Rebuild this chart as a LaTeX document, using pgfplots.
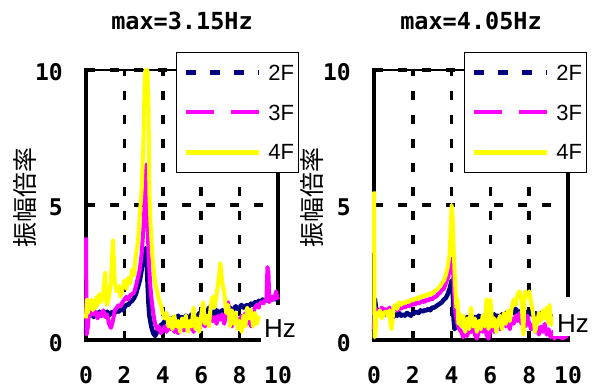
\documentclass[border=0pt]{standalone}
\usepackage{pgfplots}
\pgfplotsset{compat=1.18}
\usepackage{fontspec}
\setmainfont{Liberation Sans}
\newfontfamily\monob{DejaVu Sans Mono}
\newfontfamily\jp{Noto Sans CJK JP}
\definecolor{navyc}{RGB}{0,0,128}
\definecolor{mag}{RGB}{255,0,255}
\definecolor{yel}{RGB}{255,255,0}
\pgfplotsset{
 myax/.style={
  scale only axis, height=270pt, xmin=0,xmax=10,ymin=0,ymax=10,
  xtick={0,2,4,6,8,10}, ytick={0,5,10},
  major tick length=0pt,
  grid=major,
  major grid style={black, line width=3.6pt, dash pattern=on 9pt off 15pt},
  axis line style={draw=none},
  clip=false,
  /pgf/number format/assume math mode=true,
  ticklabel style={font=\monob\bfseries\fontsize{23}{23}\selectfont, inner sep=0pt},
  xticklabel style={anchor=base, yshift=-43pt},
  yticklabel style={anchor=base east, xshift=-23pt, yshift=-11pt},
  title style={font=\monob\bfseries\fontsize{23.5}{23.5}\selectfont, at={(rel axis cs:0.5,1)}, anchor=base, yshift=34pt, inner sep=0pt},
  ylabel style={font=\jp\fontsize{25}{25}\selectfont, at={(rel axis cs:-0.32,0.526)}, anchor=center, inner sep=0pt},
  legend style={anchor=north west, draw=black, line width=0.8pt, fill=white, inner xsep=0pt, inner ysep=0pt, row sep=0pt, font=\fontsize{22}{22}\selectfont, nodes={inner sep=0pt, text depth=0pt}, cells={anchor=center}},
  legend image code/.code={\path[draw=none,fill=none] (-10pt,-20pt) rectangle (82pt,20pt); \draw[##1] (0pt,0pt) -- (73pt,0pt);},
 },
 s2/.style={navyc, line width=4.5pt, line join=round, forget plot},
 s3/.style={mag, line width=4pt, line join=round, forget plot},
 s4/.style={yel, line width=4pt, line join=round, forget plot},
}
\begin{document}
\begin{tikzpicture}
\path[use as bounding box] (0,0) rectangle (593pt,390pt);
% ---------------- left panel ----------------
\begin{axis}[myax, width=192pt, at={(86pt,50pt)}, anchor=south west,
  title={max=3.15Hz}, ylabel={振幅倍率},
  legend style={at={(rel axis cs:0.469,1.0667)}}]
\addlegendimage{navyc, line width=4.5pt, dash pattern=on 10pt off 14pt}
\addlegendentry{2F\kern4pt}
\addlegendimage{mag, line width=4pt, dash pattern=on 28pt off 17pt}
\addlegendentry{3F\kern4pt}
\addlegendimage{yel, line width=4.5pt}
\addlegendentry{4F\kern4pt}
\draw[line width=1.5pt] (rel axis cs:0,1) -- (rel axis cs:1,1);
\draw[line width=3.6pt, line cap=rect] (rel axis cs:0,1) -- (rel axis cs:0,0) -- (rel axis cs:1,0) -- (rel axis cs:1,1);
\addplot[s2] coordinates {(0,0.2) (0.05,1.0) (0.1,1.1) (0.2,0.9) (0.3,1.0) (0.4,0.85) (0.5,1.0) (0.6,0.9) (0.7,1.05) (0.8,0.9) (0.9,1.0) (1.0,0.95) (1.1,1.05) (1.2,0.9) (1.3,1.0) (1.4,1.05) (1.5,1.0) (1.6,1.1) (1.7,1.05) (1.8,1.15) (1.9,1.1) (2.0,1.2) (2.1,1.3) (2.2,1.3) (2.3,1.4) (2.4,1.45) (2.5,1.55) (2.6,1.7) (2.7,1.95) (2.8,2.2) (2.9,2.6) (3.0,3.1) (3.1,3.4) (3.15,3.3) (3.2,2.2) (3.25,1.4) (3.3,0.9) (3.4,0.5) (3.5,0.25) (3.6,0.15) (3.7,0.3) (3.8,0.45) (3.9,0.55) (4.0,0.6) (4.1,0.7) (4.2,0.65) (4.3,0.75) (4.4,0.8) (4.5,0.75) (4.6,0.85) (4.7,0.8) (4.8,0.9) (4.9,0.8) (5.0,0.85) (5.1,0.75) (5.2,0.9) (5.3,0.8) (5.4,0.85) (5.5,0.95) (5.6,0.8) (5.7,0.9) (5.8,0.85) (5.9,1.0) (6.0,0.9) (6.1,0.95) (6.2,1.05) (6.3,0.95) (6.4,1.2) (6.5,1.0) (6.6,1.05) (6.7,0.95) (6.8,1.1) (6.9,1.0) (7.0,1.05) (7.1,1.1) (7.2,1.0) (7.3,1.15) (7.4,1.1) (7.5,1.2) (7.6,1.1) (7.7,1.15) (7.8,1.25) (7.9,1.15) (8.0,1.2) (8.1,1.3) (8.2,1.2) (8.3,1.25) (8.4,1.3) (8.5,1.25) (8.6,1.35) (8.7,1.3) (8.8,1.4) (8.9,1.35) (9.0,1.45) (9.1,1.4) (9.2,1.5) (9.3,1.45) (9.4,1.5) (9.5,1.45) (9.6,1.5) (9.7,1.5) (9.8,1.55) (9.9,1.5) (10.0,1.5)};
\addplot[s3] coordinates {(0,3.8) (0.03,0.2) (0.1,0.5) (0.15,1.0) (0.2,0.9) (0.3,1.1) (0.4,0.95) (0.5,1.05) (0.6,0.8) (0.7,1.0) (0.8,0.9) (0.9,1.1) (1.0,0.85) (1.1,0.95) (1.2,0.6) (1.3,0.45) (1.4,0.7) (1.5,1.1) (1.6,1.2) (1.7,1.3) (1.8,1.25) (1.9,1.4) (2.0,1.5) (2.1,1.6) (2.2,1.5) (2.3,1.65) (2.4,1.7) (2.5,1.75) (2.6,2.0) (2.7,2.3) (2.8,2.6) (2.9,3.2) (3.0,4.2) (3.1,5.8) (3.15,6.5) (3.2,5.0) (3.25,3.3) (3.3,2.6) (3.35,2.0) (3.4,1.6) (3.5,1.0) (3.6,0.6) (3.7,0.4) (3.8,0.5) (3.9,0.25) (4.0,0.35) (4.1,0.5) (4.2,0.3) (4.3,0.6) (4.4,0.4) (4.5,0.55) (4.6,0.3) (4.7,0.5) (4.8,0.25) (4.9,0.45) (5.0,0.6) (5.1,0.35) (5.2,0.5) (5.3,0.7) (5.4,0.4) (5.5,0.6) (5.6,0.3) (5.7,0.55) (5.8,0.7) (5.9,0.4) (6.0,0.6) (6.1,0.75) (6.2,0.5) (6.3,0.8) (6.4,0.6) (6.5,0.9) (6.6,0.7) (6.7,0.85) (6.8,0.6) (6.9,0.9) (7.0,0.75) (7.1,0.95) (7.2,0.6) (7.3,1.0) (7.4,1.4) (7.5,0.8) (7.6,0.5) (7.7,0.9) (7.8,0.6) (7.9,0.8) (8.0,0.5) (8.1,0.9) (8.2,0.7) (8.3,1.0) (8.4,0.6) (8.5,0.9) (8.6,0.5) (8.7,1.0) (8.8,1.2) (8.9,1.3) (9.0,1.2) (9.1,1.4) (9.2,1.3) (9.3,1.45) (9.4,1.5) (9.45,2.7) (9.5,2.5) (9.55,1.4) (9.6,1.5) (9.7,1.6) (9.8,1.5) (9.9,1.8) (9.95,1.6) (10.0,1.5)};
\addplot[s4] coordinates {(0,0.8) (0.05,1.5) (0.1,1.0) (0.15,1.3) (0.2,1.2) (0.3,1.5) (0.35,1.1) (0.4,1.4) (0.5,1.2) (0.55,1.6) (0.6,1.3) (0.7,1.7) (0.8,1.4) (0.9,1.8) (1.0,2.5) (1.05,1.5) (1.1,1.3) (1.2,1.6) (1.3,2.2) (1.4,3.7) (1.45,3.0) (1.5,2.1) (1.6,1.8) (1.7,2.0) (1.8,1.6) (1.9,1.9) (2.0,2.2) (2.1,1.9) (2.2,2.3) (2.3,2.1) (2.4,2.6) (2.5,2.4) (2.6,3.2) (2.7,3.6) (2.8,4.6) (2.9,5.6) (3.0,7.5) (3.05,9.5) (3.1,10) (3.2,10) (3.25,9.0) (3.3,5.5) (3.35,4.5) (3.4,3.8) (3.45,3.2) (3.5,2.8) (3.6,2.1) (3.7,1.8) (3.8,1.5) (3.9,1.3) (4.0,1.0) (4.1,0.8) (4.2,1.0) (4.3,0.5) (4.4,0.8) (4.5,0.4) (4.6,0.9) (4.7,0.5) (4.8,0.7) (4.9,0.3) (5.0,0.8) (5.1,0.5) (5.2,0.9) (5.3,0.3) (5.4,0.7) (5.5,0.5) (5.6,1.2) (5.7,0.4) (5.8,0.8) (5.9,0.3) (6.0,0.9) (6.1,1.4) (6.2,0.6) (6.3,0.9) (6.4,0.5) (6.5,1.3) (6.6,1.6) (6.7,1.2) (6.8,1.7) (6.9,2.2) (7.0,2.85) (7.1,2.1) (7.2,1.8) (7.3,1.0) (7.4,1.3) (7.5,0.5) (7.6,1.1) (7.7,0.6) (7.8,1.0) (7.9,0.4) (8.0,0.7) (8.1,0.3) (8.2,0.9) (8.3,0.5) (8.4,1.2) (8.5,0.8) (8.6,1.1) (8.7,0.5) (8.8,1.0) (8.9,0.6) (9.0,0.9)};
\end{axis}
% ---------------- right panel ----------------
\begin{axis}[myax, width=194pt, at={(374pt,50pt)}, anchor=south west,
  title={max=4.05Hz}, ylabel={振幅倍率},
  legend style={at={(rel axis cs:0.464,1.0667)}}]
\addlegendimage{navyc, line width=4.5pt, dash pattern=on 10pt off 14pt}
\addlegendentry{2F\kern4pt}
\addlegendimage{mag, line width=4pt, dash pattern=on 28pt off 17pt}
\addlegendentry{3F\kern4pt}
\addlegendimage{yel, line width=4.5pt}
\addlegendentry{4F\kern4pt}
\draw[line width=1.5pt] (rel axis cs:0,1) -- (rel axis cs:1,1);
\draw[line width=3.6pt, line cap=rect] (rel axis cs:0,1) -- (rel axis cs:0,0) -- (rel axis cs:1,0) -- (rel axis cs:1,1);
\addplot[s2] coordinates {(0,0.3) (0.05,1.5) (0.1,1.2) (0.2,1.0) (0.3,1.1) (0.4,0.9) (0.5,1.0) (0.6,0.95) (0.7,1.05) (0.8,0.9) (0.9,1.0) (1.0,0.85) (1.1,0.95) (1.2,0.9) (1.3,1.0) (1.4,0.9) (1.5,0.95) (1.6,0.9) (1.7,1.0) (1.8,0.95) (1.9,0.9) (2.0,1.0) (2.1,1.0) (2.2,1.05) (2.3,1.0) (2.4,1.1) (2.5,1.05) (2.6,1.1) (2.7,1.1) (2.8,1.15) (2.9,1.1) (3.0,1.2) (3.1,1.2) (3.2,1.25) (3.3,1.3) (3.4,1.35) (3.5,1.4) (3.6,1.5) (3.7,1.55) (3.8,1.7) (3.9,1.9) (4.0,2.2) (4.05,2.1) (4.1,0.8) (4.15,0.4) (4.2,0.5) (4.3,0.7) (4.4,0.65) (4.5,0.75) (4.6,0.8) (4.7,0.7) (4.8,0.85) (4.9,0.8) (5.0,0.9) (5.1,0.75) (5.2,0.85) (5.3,0.8) (5.4,0.9) (5.5,0.85) (5.6,0.8) (5.7,0.9) (5.8,0.85) (5.9,0.95) (6.0,0.9) (6.1,0.85) (6.2,0.95) (6.3,0.8) (6.4,0.9) (6.5,0.85) (6.6,0.95) (6.7,0.9) (6.8,1.0) (6.9,0.9) (7.0,1.05) (7.1,1.1) (7.2,1.0) (7.3,1.15) (7.4,1.05) (7.5,1.0) (7.6,1.1) (7.7,0.95) (7.8,1.05) (7.9,1.0) (8.0,0.95) (8.1,1.05) (8.2,0.9) (8.3,1.0) (8.4,0.95) (8.5,0.9) (8.6,1.0) (8.7,0.9) (8.8,0.85) (8.9,0.9) (9.0,0.85) (9.1,0.9) (9.2,0.8) (9.3,0.85) (9.4,0.8) (9.5,0.75)};
\addplot[s3] coordinates {(0,0.4) (0.05,1.2) (0.1,0.9) (0.2,1.1) (0.3,1.0) (0.4,1.2) (0.5,1.1) (0.6,1.15) (0.7,1.05) (0.8,1.2) (0.9,1.1) (1.0,1.15) (1.1,1.2) (1.2,1.1) (1.3,1.2) (1.4,1.15) (1.5,1.25) (1.6,1.2) (1.7,1.3) (1.8,1.25) (1.9,1.3) (2.0,1.35) (2.1,1.3) (2.2,1.4) (2.3,1.35) (2.4,1.4) (2.5,1.45) (2.6,1.4) (2.7,1.5) (2.8,1.45) (2.9,1.55) (3.0,1.5) (3.1,1.6) (3.2,1.6) (3.3,1.7) (3.4,1.75) (3.5,1.85) (3.6,1.9) (3.7,2.1) (3.8,2.3) (3.9,2.6) (4.0,3.0) (4.05,2.9) (4.1,2.2) (4.15,1.5) (4.2,1.0) (4.3,0.6) (4.4,0.4) (4.5,0.3) (4.6,0.1) (4.7,0.3) (4.8,0.15) (4.9,0.4) (5.0,0.3) (5.1,0.5) (5.2,0.2) (5.3,0.05) (5.4,0.3) (5.5,0.5) (5.6,0.3) (5.7,0.6) (5.8,0.2) (5.9,0.05) (6.0,0.4) (6.1,0.6) (6.2,0.3) (6.3,0.5) (6.4,0.7) (6.5,0.4) (6.6,0.6) (6.7,0.8) (6.8,0.5) (6.9,0.7) (7.0,0.4) (7.1,0.8) (7.2,0.6) (7.3,0.9) (7.4,0.7) (7.5,1.0) (7.6,0.6) (7.7,0.8) (7.8,0.5) (7.9,0.9) (8.0,0.6) (8.1,0.4) (8.2,0.6) (8.3,0.3) (8.4,0.5) (8.5,0.2) (8.6,0.5) (8.7,0.3) (8.8,0.6) (8.9,0.2) (9.0,0.4) (9.1,0.1) (9.2,0.3) (9.3,0.05) (9.4,0.2) (9.5,0.1) (9.6,0.15) (9.7,0.05) (9.8,0.1) (9.9,0.15) (10.0,0.1)};
\addplot[s4] coordinates {(0,5.5) (0.03,0.1) (0.08,0.3) (0.12,1.0) (0.2,0.9) (0.3,1.1) (0.4,0.8) (0.5,1.0) (0.6,1.05) (0.7,0.9) (0.8,1.1) (0.85,0.6) (0.9,0.4) (0.95,0.7) (1.0,1.2) (1.1,1.3) (1.2,1.15) (1.3,1.4) (1.4,1.3) (1.5,1.4) (1.6,1.35) (1.7,1.45) (1.8,1.4) (1.9,1.5) (2.0,1.45) (2.1,1.55) (2.2,1.5) (2.3,1.6) (2.4,1.55) (2.5,1.65) (2.6,1.6) (2.7,1.7) (2.8,1.65) (2.9,1.75) (3.0,1.7) (3.1,1.8) (3.2,1.85) (3.3,1.9) (3.4,2.0) (3.5,2.1) (3.6,2.2) (3.7,2.4) (3.8,2.7) (3.9,3.2) (3.95,4.0) (4.0,5.0) (4.05,4.6) (4.1,3.5) (4.15,2.6) (4.2,1.8) (4.25,1.2) (4.3,1.5) (4.35,0.6) (4.4,1.0) (4.5,0.5) (4.6,0.9) (4.7,0.3) (4.8,0.8) (4.9,0.4) (5.0,1.2) (5.1,0.5) (5.2,0.8) (5.3,0.3) (5.4,0.7) (5.5,0.4) (5.6,0.9) (5.7,0.5) (5.8,1.5) (5.9,0.4) (6.0,1.5) (6.1,0.5) (6.2,0.8) (6.3,0.3) (6.4,0.7) (6.5,0.9) (6.6,0.4) (6.7,1.0) (6.8,0.6) (6.9,1.1) (7.0,0.7) (7.1,1.2) (7.2,1.5) (7.3,1.3) (7.4,1.7) (7.5,1.8) (7.6,1.5) (7.7,0.2) (7.75,1.4) (7.8,1.8) (7.9,1.6) (8.0,1.8) (8.1,1.4) (8.2,1.0) (8.3,0.3) (8.4,0.6) (8.5,1.0) (8.6,0.7) (8.7,1.1) (8.8,0.8) (8.9,1.2) (9.0,0.6) (9.05,1.3) (9.1,0.9) (9.2,0.5)};
\end{axis}
% Hz labels with white backing
\node[fill=white, inner sep=0pt, minimum width=39pt, minimum height=41pt, anchor=north west] at (261pt,85pt) {};
\node[anchor=base west, inner sep=0pt, font=\fontsize{26}{26}\selectfont] at (264pt,52pt) {Hz};
\node[fill=white, inner sep=0pt, minimum width=39pt, minimum height=39pt, anchor=north west] at (553pt,93pt) {};
\node[anchor=base west, inner sep=0pt, font=\fontsize{26}{26}\selectfont] at (557pt,57pt) {Hz};
\end{tikzpicture}
\end{document}
